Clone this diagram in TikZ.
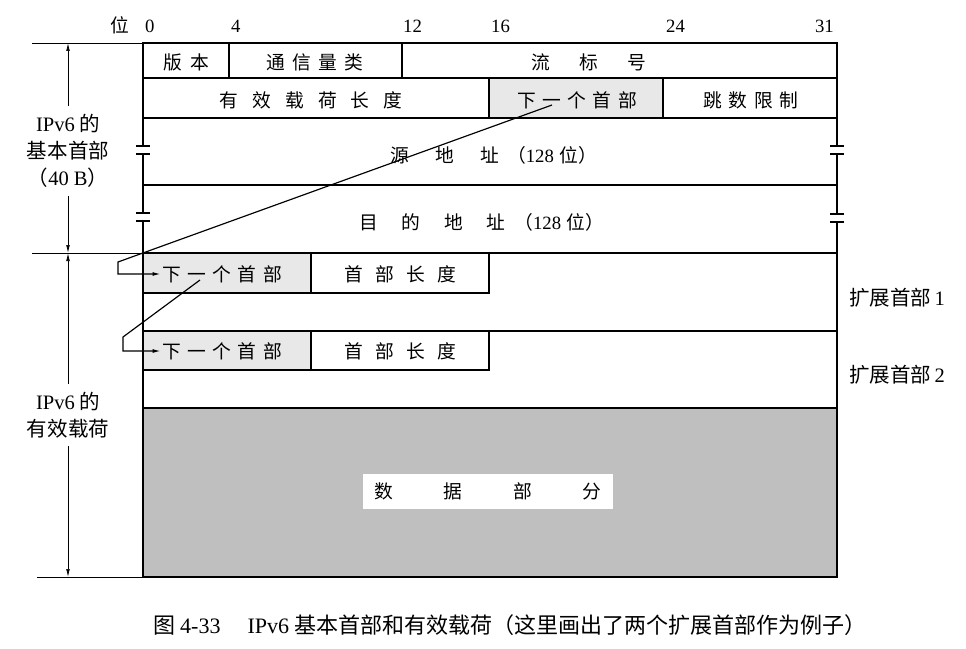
\documentclass[tikz,border=0pt]{standalone}
\usepackage{fontspec}
\setmainfont{Liberation Serif}
\newfontfamily\zh{Noto Sans CJK SC}
\usetikzlibrary{arrows.meta}
\definecolor{nhfill}{gray}{0.91}
\definecolor{datafill}{gray}{0.75}
\newcommand\spread[2]{{\addfontfeature{LetterSpace=#1}#2}}
\newcommand\lt[1]{{\rmfamily #1}}
\newcommand\brk[2]{
  \fill[white] (#1-8,#2-4) rectangle (#1+8,#2+4);
  \draw[border] (#1-7,#2-4) -- (#1+7,#2-4) (#1-7,#2+4) -- (#1+7,#2+4);
}

\begin{document}
\begin{tikzpicture}[x=0.3mm,y=-0.3mm,
    every node/.style={font=\zh\fontsize{16}{22}\selectfont,inner sep=1pt},
    field/.style={line width=1.1pt},
    border/.style={line width=2pt},
    dimline/.style={line width=0.6pt},
    link/.style={line width=1pt,-{Latex[length=2.4mm,width=1.2mm]}},
    dimarrow/.style={line width=0.6pt,-{Latex[length=2.4mm,width=1.1mm]}},
    bitnum/.style={font=\rmfamily\fontsize{16}{18}\selectfont,anchor=base west,inner sep=0pt},
    sidelabel/.style={font=\zh\fontsize{17.5}{23}\selectfont},
    dimlabel/.style={sidelabel,align=center,inner sep=2.4mm}
  ]
    \useasboundingbox (0,0) rectangle (966,648);

    \fill[nhfill] (489,78) rectangle (663,118);
    \fill[nhfill] (143,254) rectangle (311,293);
    \fill[nhfill] (143,332) rectangle (311,370);
    \fill[datafill] (143,408) rectangle (837,577);

    \draw[field] (143,78) -- (837,78) (143,118) -- (837,118)
      (143,185) -- (837,185) (143,253) -- (837,253)
      (143,331) -- (837,331) (143,408) -- (837,408);
    \draw[field] (229,43) -- (229,78) (402,43) -- (402,78)
      (489,78) -- (489,118) (663,78) -- (663,118);
    \draw[field] (143,293) -| (489,254) (311,254) -- (311,293);
    \draw[field] (143,370) -| (489,332) (311,332) -- (311,370);
    \draw[border] (143,43) rectangle (837,577);

    \brk{143}{150}
    \brk{143}{217}
    \brk{837}{150}
    \brk{837}{218}

    \foreach \b/\xx in {0/145,4/231,12/403,16/491,24/666}
      \node[bitnum] (bit\b) at (\xx,33) {\b};
    \node[bitnum,anchor=base east] (bit31) at (834,33) {31};
    \node[anchor=base east] (bitword) at (131,33) {位};

    \node (ver) at (186,62) {\spread{45}{版本}};
    \node (tclass) at (315,62) {\spread{40}{通信量类}};
    \node (flow) at (589,62) {\spread{155}{流标号}};
    \node (plen) at (311,100) {\spread{75}{有效载荷长度}};
    \node (nh0) at (577,100) {\spread{35}{下一个首部}};
    \node (hop) at (751,100) {\spread{35}{跳数限制}};
    \node (src) at (494,155) {\spread{140}{源地址}\hspace{0.4em}（\lt{128}\hspace{0.3em}位）};
    \node (dst) at (482,222) {\spread{125}{目的地址}\hspace{0.5em}（\lt{128}\hspace{0.3em}位）};

    \node (nh1) at (222,274) {\spread{35}{下一个首部}};
    \node (hl1) at (400,274) {\spread{65}{首部长度}};
    \node (nh2) at (222,351) {\spread{35}{下一个首部}};
    \node (hl2) at (400,351) {\spread{65}{首部长度}};
    \node[fill=white,minimum width=75mm,minimum height=10.5mm] (data) at (488,491)
      {\spread{270}{数据部分}};

    \node[sidelabel] (ext1) at (897,298) {扩展首部\,\lt{1}};
    \node[sidelabel] (ext2) at (897,375) {扩展首部\,\lt{2}};

    \coordinate (nhsrc) at (552,105);
    \coordinate (bend1) at (118,262);
    \draw[link] (nhsrc) -- (bend1) |- (nh1.west);
    \coordinate (nh1src) at (200,280);
    \coordinate (bend2) at (123,337);
    \draw[link] (nh1src) -- (bend2) |- (nh2.west);

    \draw[dimline] (32,43) -- (143,43) (32,253) -- (143,253) (37,577) -- (143,577);
    \coordinate (hdrtop) at (68,43);
    \coordinate (hdrbot) at (68,253);
    \coordinate (paybot) at (68,577);
    \node[dimlabel] (hdrlbl) at (68,151) {\lt{IPv6} 的\\基本首部\\（\lt{40 B}）};
    \node[dimlabel] (paylbl) at (68,415) {\lt{IPv6} 的\\有效载荷};
    \draw[dimarrow] (hdrlbl.north) -- (hdrtop);
    \draw[dimarrow] (hdrlbl.south) -- (hdrbot);
    \draw[dimarrow] (paylbl.north) -- (hdrbot);
    \draw[dimarrow] (paylbl.south) -- (paybot);

    \node[font=\zh\fontsize{18.8}{22}\selectfont] (cap) at (510,625)
      {图 \lt{4-33}\quad\ \lt{IPv6} 基本首部和有效载荷（这里画出了两个扩展首部作为例子）};
\end{tikzpicture}
\end{document}
